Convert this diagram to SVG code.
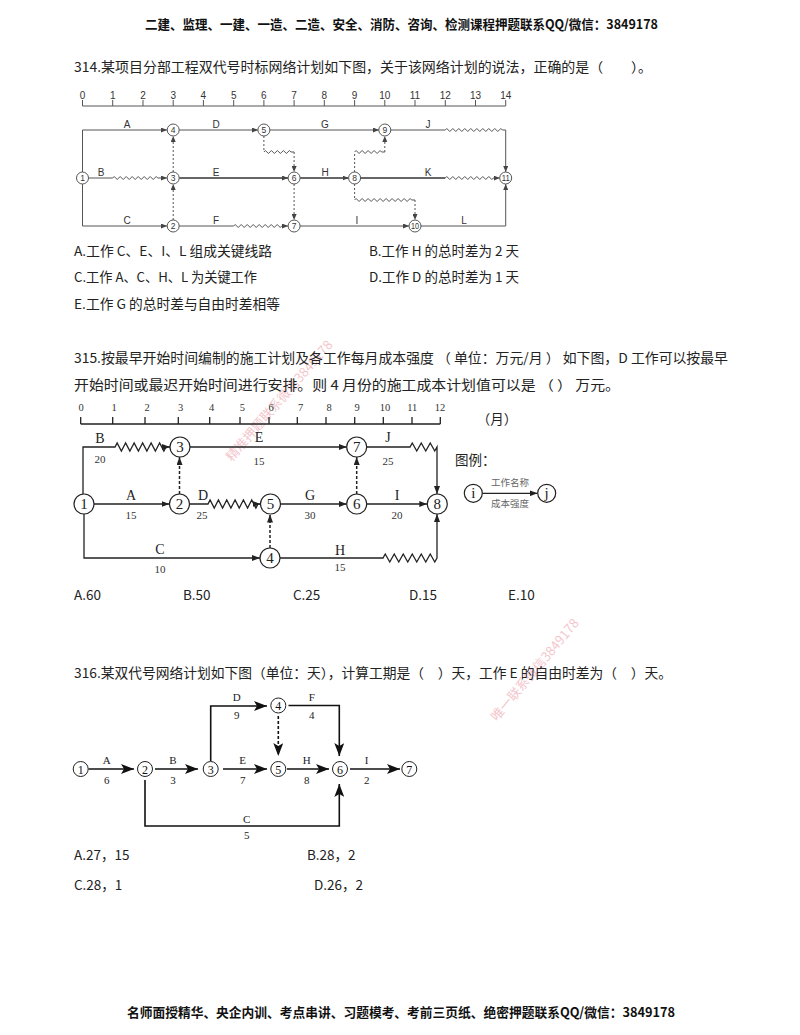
<svg xmlns="http://www.w3.org/2000/svg" width="800" height="1035" viewBox="0 0 800 1035">
<style>
.t{font-family:"Noto Sans CJK SC","Noto Sans",sans-serif;font-size:13.5px;fill:#222}
.h{font-family:"Noto Sans CJK SC","Noto Sans",sans-serif;font-size:13px;font-weight:bold;fill:#111}
.wm{font-family:"Noto Sans CJK SC",sans-serif;font-size:13px;fill:#e05a6e;opacity:0.35}
.a1{font-family:"Liberation Sans",Arial,sans-serif;font-size:10px;fill:#333;text-anchor:middle}
.n1{font-family:"Liberation Sans",Arial,sans-serif;font-size:8.5px;fill:#333;text-anchor:middle}
.s1{fill:none;stroke:#555;stroke-width:1}
.s1b{fill:none;stroke:#333;stroke-width:1.6}
.d1{fill:none;stroke:#555;stroke-width:1;stroke-dasharray:2,2}
.c1{fill:#fff;stroke:#555;stroke-width:1}
.a2{font-family:"Liberation Serif","Times New Roman",serif;font-size:10.5px;fill:#333;text-anchor:middle}
.l2{font-family:"Liberation Serif","Times New Roman",serif;font-size:14px;fill:#222;text-anchor:middle}
.v2{font-family:"Liberation Serif","Times New Roman",serif;font-size:11px;fill:#333;text-anchor:middle}
.n2{font-family:"Liberation Serif","Times New Roman",serif;font-size:15px;fill:#222;text-anchor:middle}
.s2{fill:none;stroke:#222;stroke-width:1.3}
.d2{fill:none;stroke:#222;stroke-width:1.5;stroke-dasharray:3,2}
.c2{fill:#fff;stroke:#222;stroke-width:1.2}
.lg{font-family:"Noto Sans CJK SC",sans-serif;font-size:9.5px;fill:#666;text-anchor:middle}
.s3{fill:none;stroke:#111;stroke-width:1.6}
.d3{fill:none;stroke:#111;stroke-width:1.6;stroke-dasharray:3,2}
.c3{fill:#fff;stroke:#222;stroke-width:1}
.n3{font-family:"Liberation Serif","Times New Roman",serif;font-size:12px;fill:#111;text-anchor:middle}
.l3{font-family:"Liberation Serif","Times New Roman",serif;font-size:11px;fill:#222;text-anchor:middle}
</style>
<defs>
<marker id="m1" markerUnits="userSpaceOnUse" markerWidth="6" markerHeight="5" refX="6" refY="2.5" orient="auto"><path d="M0,0 L6,2.5 L0,5 z" fill="#444"/></marker>
<marker id="m2" markerUnits="userSpaceOnUse" markerWidth="8" markerHeight="6" refX="8" refY="3" orient="auto"><path d="M0,0 L8,3 L0,6 z" fill="#222"/></marker>
<marker id="m3" markerUnits="userSpaceOnUse" markerWidth="13" markerHeight="10" refX="13" refY="5" orient="auto"><path d="M0,0 L13,5 L0,10 L3,5 z" fill="#111"/></marker>
</defs>
<rect width="800" height="1035" fill="#fff"/>

<!-- header / footer -->
<text class="h" x="145" y="29" textLength="513" lengthAdjust="spacingAndGlyphs">二建、监理、一建、一造、二造、安全、消防、咨询、检测课程押题联系QQ/微信：3849178</text>
<text class="h" x="127" y="1017" textLength="548" lengthAdjust="spacingAndGlyphs">名师面授精华、央企内训、考点串讲、习题模考、考前三页纸、绝密押题联系QQ/微信：3849178</text>

<!-- watermarks -->
<text class="wm" transform="translate(232,462) rotate(-49)">精准押题联系微信3849178</text>
<text class="wm" transform="translate(497,722) rotate(-50)">唯一联系微信3849178</text>

<!-- Question 314 -->
<text class="t" x="74" y="72" textLength="578" lengthAdjust="spacingAndGlyphs">314.某项目分部工程双代号时标网络计划如下图，关于该网络计划的说法，正确的是（　　）。</text>

<g id="q314-axis">
<path class="s1" d="M82.5,106 H505.7 M82.5,100 V106 M112.7,100 V106 M143,100 V106 M173.2,100 V106 M203.4,100 V106 M233.7,100 V106 M263.9,100 V106 M294.1,100 V106 M324.3,100 V106 M354.6,100 V106 M384.8,100 V106 M415,100 V106 M445.3,100 V106 M475.5,100 V106 M505.7,100 V106"/>
<text class="a1" x="82.5" y="99">0</text><text class="a1" x="112.7" y="99">1</text><text class="a1" x="143" y="99">2</text><text class="a1" x="173.2" y="99">3</text><text class="a1" x="203.4" y="99">4</text><text class="a1" x="233.7" y="99">5</text><text class="a1" x="263.9" y="99">6</text><text class="a1" x="294.1" y="99">7</text><text class="a1" x="324.3" y="99">8</text><text class="a1" x="354.6" y="99">9</text><text class="a1" x="384.8" y="99">10</text><text class="a1" x="415" y="99">11</text><text class="a1" x="445.3" y="99">12</text><text class="a1" x="475.5" y="99">13</text><text class="a1" x="505.7" y="99">14</text>
</g>

<g id="q314-edges">
<path class="s1" d="M82.5,130 V226"/>
<path class="s1" d="M82.5,130 H167" marker-end="url(#m1)"/>
<path class="s1" d="M179.2,130 H258" marker-end="url(#m1)"/>
<path class="s1" d="M270,130 H379" marker-end="url(#m1)"/>
<path class="s1" d="M390.8,130 H445.3 q1.5,-3 3,0 t3,0t3,0t3,0t3,0t3,0t3,0t3,0t3,0t3,0t3,0t3,0t3,0t3,0t3,0t3,0t3,0t3,0t3,0 H505.7 V172" marker-end="url(#m1)"/>
<path class="s1" d="M88.5,178 H112.7 q1.5,-3 3,0 t3,0t3,0t3,0t3,0t3,0t3,0t3,0t3,0t3,0t3,0t3,0t3,0t3,0t3,0 H167" marker-end="url(#m1)"/>
<path class="s1b" d="M179.2,178 H288" marker-end="url(#m1)"/>
<path class="s1b" d="M300.1,178 H348.6" marker-end="url(#m1)"/>
<path class="s1b" d="M360.6,178 H445.3"/>
<path class="s1" d="M445.3,178 q1.5,-3 3,0 t3,0t3,0t3,0t3,0t3,0t3,0t3,0t3,0t3,0t3,0t3,0t3,0t3,0t3,0t3,0 H499.7" marker-end="url(#m1)"/>
<path class="s1" d="M82.5,226 H167" marker-end="url(#m1)"/>
<path class="s1" d="M179.2,226 H233.7 q1.5,-3 3,0 t3,0t3,0t3,0t3,0t3,0t3,0t3,0t3,0t3,0t3,0t3,0t3,0t3,0t3,0t3,0 H288" marker-end="url(#m1)"/>
<path class="s1" d="M300.1,226 H409" marker-end="url(#m1)"/>
<path class="s1" d="M421,226 H505.7 V184" marker-end="url(#m1)"/>
<path class="d1" d="M173.2,220 V184" marker-end="url(#m1)"/>
<path class="d1" d="M173.2,172 V136" marker-end="url(#m1)"/>
<path class="d1" d="M263.9,136 V152"/>
<path class="s1" d="M263.9,152 q1.5,-3 3,0 t3,0t3,0t3,0t3,0t3,0t3,0t3,0t3,0 H294.1"/>
<path class="d1" d="M294.1,152 V172" marker-end="url(#m1)"/>
<path class="d1" d="M294.1,184 V220" marker-end="url(#m1)"/>
<path class="d1" d="M354.6,172 V152"/>
<path class="s1" d="M354.6,152 q1.5,-3 3,0 t3,0t3,0t3,0t3,0t3,0t3,0t3,0t3,0 H384.8"/>
<path class="d1" d="M384.8,152 V136" marker-end="url(#m1)"/>
<path class="d1" d="M354.6,184 V200"/>
<path class="s1" d="M354.6,200 q1.5,-3 3,0 t3,0t3,0t3,0t3,0t3,0t3,0t3,0t3,0t3,0t3,0t3,0t3,0t3,0t3,0t3,0t3,0t3,0t3,0 H415"/>
<path class="d1" d="M415,200 V220" marker-end="url(#m1)"/>
</g>
<g id="q314-labels">
<text class="a1" x="127" y="128">A</text><text class="a1" x="216" y="128">D</text><text class="a1" x="325" y="128">G</text><text class="a1" x="428" y="128">J</text>
<text class="a1" x="101" y="176">B</text><text class="a1" x="216" y="176">E</text><text class="a1" x="325" y="176">H</text><text class="a1" x="428" y="176">K</text>
<text class="a1" x="127" y="224">C</text><text class="a1" x="216" y="224">F</text><text class="a1" x="357" y="224">I</text><text class="a1" x="464" y="224">L</text>
</g>
<g id="q314-n1"><circle class="c1" cx="82.5" cy="178" r="6"/><text class="n1" x="82.5" y="181">1</text></g>
<g id="q314-n2"><circle class="c1" cx="173.2" cy="226" r="6"/><text class="n1" x="173.2" y="229">2</text></g>
<g id="q314-n3"><circle class="c1" cx="173.2" cy="178" r="6"/><text class="n1" x="173.2" y="181">3</text></g>
<g id="q314-n4"><circle class="c1" cx="173.2" cy="130" r="6"/><text class="n1" x="173.2" y="133">4</text></g>
<g id="q314-n5"><circle class="c1" cx="263.9" cy="130" r="6"/><text class="n1" x="263.9" y="133">5</text></g>
<g id="q314-n6"><circle class="c1" cx="294.1" cy="178" r="6"/><text class="n1" x="294.1" y="181">6</text></g>
<g id="q314-n7"><circle class="c1" cx="294.1" cy="226" r="6"/><text class="n1" x="294.1" y="229">7</text></g>
<g id="q314-n8"><circle class="c1" cx="354.6" cy="178" r="6"/><text class="n1" x="354.6" y="181">8</text></g>
<g id="q314-n9"><circle class="c1" cx="384.8" cy="130" r="6"/><text class="n1" x="384.8" y="133">9</text></g>
<g id="q314-n10"><circle class="c1" cx="415" cy="226" r="6"/><text class="n1" x="415" y="229" textLength="8" lengthAdjust="spacingAndGlyphs">10</text></g>
<g id="q314-n11"><circle class="c1" cx="505.7" cy="178" r="6"/><text class="n1" x="505.7" y="181" textLength="8" lengthAdjust="spacingAndGlyphs">11</text></g>

<text class="t" x="74" y="256" textLength="198" lengthAdjust="spacingAndGlyphs">A.工作 C、E、I、L 组成关键线路</text>
<text class="t" x="369" y="256" textLength="150" lengthAdjust="spacingAndGlyphs">B.工作 H 的总时差为 2 天</text>
<text class="t" x="74" y="282" textLength="183" lengthAdjust="spacingAndGlyphs">C.工作 A、C、H、L 为关键工作</text>
<text class="t" x="369" y="282" textLength="150" lengthAdjust="spacingAndGlyphs">D.工作 D 的总时差为 1 天</text>
<text class="t" x="74" y="309" textLength="206" lengthAdjust="spacingAndGlyphs">E.工作 G 的总时差与自由时差相等</text>

<!-- Question 315 -->
<text class="t" x="74" y="363" textLength="654" lengthAdjust="spacingAndGlyphs">315.按最早开始时间编制的施工计划及各工作每月成本强度 （ 单位：万元/月 ） 如下图，D 工作可以按最早</text>
<text class="t" x="74" y="390" textLength="546" lengthAdjust="spacingAndGlyphs">开始时间或最迟开始时间进行安排。则 4 月份的施工成本计划值可以是 （  ） 万元。</text>

<g id="q315-axis">
<path class="s2" stroke-width="1" d="M80.7,424 H440.3 M80.7,417 V424 M112.7,417 V424 M145,417 V424 M178.3,417 V424 M209.7,417 V424 M240,417 V424 M269,417 V424 M297.3,417 V424 M326,417 V424 M354.7,417 V424 M383.3,417 V424 M412,417 V424 M440.3,417 V424"/>
<text class="a2" x="81" y="411">0</text><text class="a2" x="114" y="411">1</text><text class="a2" x="147" y="411">2</text><text class="a2" x="180.7" y="411">3</text><text class="a2" x="211.7" y="411">4</text><text class="a2" x="242.3" y="411">5</text><text class="a2" x="271" y="411">6</text><text class="a2" x="300.7" y="411">7</text><text class="a2" x="329" y="411">8</text><text class="a2" x="357" y="411">9</text><text class="a2" x="385" y="411">10</text><text class="a2" x="412.3" y="411">11</text><text class="a2" x="440" y="411">12</text>
<text class="t" x="497" y="424" text-anchor="middle" fill="#444">（月）</text>
</g>

<g id="q315-edges">
<path class="s2" d="M83,494 V447 H115 l2.125,-4l4.25,8l2.125,-4 l2.125,-4l4.25,8l2.125,-4 l2.125,-4l4.25,8l2.125,-4 l2.125,-4l4.25,8l2.125,-4 l2.125,-4l4.25,8l2.125,-4 l2.125,-4l4.25,8l2.125,-4 H170" marker-end="url(#m2)"/>
<path class="s2" d="M190,447 H346.7" marker-end="url(#m2)"/>
<path class="s2" d="M366.7,447 H410 l2.25,-4l4.5,8l2.25,-4 l2.25,-4l4.5,8l2.25,-4 l2.25,-4l4.5,8l2.25,-4 V494" marker-end="url(#m2)"/>
<path class="s2" d="M94,504 H169.5" marker-end="url(#m2)"/>
<path class="s2" d="M189.5,504 H208 l2.08,-4l4.17,8l2.08,-4 l2.08,-4l4.17,8l2.08,-4 l2.08,-4l4.17,8l2.08,-4 l2.08,-4l4.17,8l2.08,-4 l2.08,-4l4.17,8l2.08,-4 l2.08,-4l4.17,8l2.08,-4 H260.5" marker-end="url(#m2)"/>
<path class="s2" d="M280.5,504 H346.7" marker-end="url(#m2)"/>
<path class="s2" d="M366.7,504 H427.3" marker-end="url(#m2)"/>
<path class="s2" d="M84,514 V558 H260" marker-end="url(#m2)"/>
<path class="s2" d="M280,558 H383 l2.25,-4l4.5,8l2.25,-4 l2.25,-4l4.5,8l2.25,-4 l2.25,-4l4.5,8l2.25,-4 l2.25,-4l4.5,8l2.25,-4 l2.25,-4l4.5,8l2.25,-4 l2.25,-4l4.5,8l2.25,-4 V514" marker-end="url(#m2)"/>
<path class="d2" d="M179.5,494 V457" marker-end="url(#m2)"/>
<path class="d2" d="M270,548 V514.5" marker-end="url(#m2)"/>
<path class="d2" d="M356.7,494 V457" marker-end="url(#m2)"/>
</g>
<g id="q315-labels">
<text class="l2" x="100" y="443">B</text><text class="v2" x="100" y="463">20</text>
<text class="l2" x="259" y="442">E</text><text class="v2" x="259" y="465">15</text>
<text class="l2" x="388" y="442">J</text><text class="v2" x="388" y="465">25</text>
<text class="l2" x="131" y="500">A</text><text class="v2" x="131" y="519">15</text>
<text class="l2" x="203" y="500">D</text><text class="v2" x="202" y="519">25</text>
<text class="l2" x="310" y="500">G</text><text class="v2" x="310" y="519">30</text>
<text class="l2" x="397" y="500">I</text><text class="v2" x="397" y="519">20</text>
<text class="l2" x="160" y="554">C</text><text class="v2" x="160" y="573">10</text>
<text class="l2" x="340" y="555">H</text><text class="v2" x="340" y="571">15</text>
</g>
<g id="q315-n1"><circle class="c2" cx="84" cy="504" r="10"/><text class="n2" x="84" y="509">1</text></g>
<g id="q315-n2"><circle class="c2" cx="179.5" cy="504" r="10"/><text class="n2" x="179.5" y="509">2</text></g>
<g id="q315-n3"><circle class="c2" cx="180" cy="447" r="10"/><text class="n2" x="180" y="452">3</text></g>
<g id="q315-n4"><circle class="c2" cx="270" cy="558" r="10"/><text class="n2" x="270" y="563">4</text></g>
<g id="q315-n5"><circle class="c2" cx="270.5" cy="504" r="10"/><text class="n2" x="270.5" y="509">5</text></g>
<g id="q315-n6"><circle class="c2" cx="356.7" cy="504" r="10"/><text class="n2" x="356.7" y="509">6</text></g>
<g id="q315-n7"><circle class="c2" cx="356.7" cy="447" r="10"/><text class="n2" x="356.7" y="452">7</text></g>
<g id="q315-n8"><circle class="c2" cx="437.3" cy="504" r="10"/><text class="n2" x="437.3" y="509">8</text></g>

<g id="q315-legend">
<text class="t" x="455" y="465" fill="#444">图例：</text>
<circle class="c2" cx="473.3" cy="493.3" r="9" stroke="#444"/><text class="n2" x="473.3" y="498" fill="#444">i</text>
<path class="s2" stroke="#444" d="M482.3,493.3 H537.5" marker-end="url(#m2)"/>
<circle class="c2" cx="546.7" cy="493.3" r="9" stroke="#444"/><text class="n2" x="546.7" y="498" fill="#444">j</text>
<text class="lg" x="510" y="486">工作名称</text>
<text class="lg" x="510" y="507">成本强度</text>
</g>

<text class="t" x="74" y="600">A.60</text>
<text class="t" x="183" y="600">B.50</text>
<text class="t" x="293" y="600">C.25</text>
<text class="t" x="409" y="600">D.15</text>
<text class="t" x="508" y="600">E.10</text>

<!-- Question 316 -->
<text class="t" x="74" y="678" textLength="598" lengthAdjust="spacingAndGlyphs">316.某双代号网络计划如下图（单位：天），计算工期是（　）天，工作 E 的自由时差为（　）天。</text>

<g id="q316-edges">
<path class="s3" d="M88.5,769 H134" marker-end="url(#m3)"/>
<path class="s3" d="M155,769 H198" marker-end="url(#m3)"/>
<path class="s3" d="M210.7,761 V706 H267" marker-end="url(#m3)"/>
<path class="s3" d="M288.5,705.5 H339.3 V756" marker-end="url(#m3)"/>
<path class="d3" d="M278.3,716 V756" marker-end="url(#m3)"/>
<path class="s3" d="M223,769 H267" marker-end="url(#m3)"/>
<path class="s3" d="M287,769 H329" marker-end="url(#m3)"/>
<path class="s3" d="M350,769 H400" marker-end="url(#m3)"/>
<path class="s3" d="M145,780 V826 H339.3 V784" marker-end="url(#m3)"/>
</g>
<g id="q316-labels">
<text class="l3" x="106.7" y="764">A</text><text class="l3" x="106.7" y="784">6</text>
<text class="l3" x="173" y="764">B</text><text class="l3" x="173" y="784">3</text>
<text class="l3" x="242.7" y="764">E</text><text class="l3" x="242.7" y="784">7</text>
<text class="l3" x="306.7" y="764">H</text><text class="l3" x="306.7" y="784">8</text>
<text class="l3" x="366.7" y="764">I</text><text class="l3" x="366.7" y="784">2</text>
<text class="l3" x="236.7" y="701">D</text><text class="l3" x="236.7" y="719">9</text>
<text class="l3" x="311.7" y="701">F</text><text class="l3" x="311.7" y="719">4</text>
<text class="l3" x="246.7" y="823">C</text><text class="l3" x="246.7" y="839">5</text>
</g>
<g id="q316-n1"><circle class="c3" cx="80.7" cy="769" r="7.5"/><text class="n3" x="80.7" y="773.5">1</text></g>
<g id="q316-n2"><circle class="c3" cx="145" cy="769" r="7.5"/><text class="n3" x="145" y="773.5">2</text></g>
<g id="q316-n3"><circle class="c3" cx="210.7" cy="769" r="7.5"/><text class="n3" x="210.7" y="773.5">3</text></g>
<g id="q316-n4"><circle class="c3" cx="278.3" cy="705.5" r="7.5"/><text class="n3" x="278.3" y="710">4</text></g>
<g id="q316-n5"><circle class="c3" cx="278.3" cy="769" r="7.5"/><text class="n3" x="278.3" y="773.5">5</text></g>
<g id="q316-n6"><circle class="c3" cx="340" cy="769" r="7.5"/><text class="n3" x="340" y="773.5">6</text></g>
<g id="q316-n7"><circle class="c3" cx="409.3" cy="769" r="7.5"/><text class="n3" x="409.3" y="773.5">7</text></g>

<text class="t" x="74" y="860">A.27，15</text>
<text class="t" x="307" y="860">B.28，2</text>
<text class="t" x="74" y="890">C.28，1</text>
<text class="t" x="314" y="890">D.26，2</text>
</svg>
